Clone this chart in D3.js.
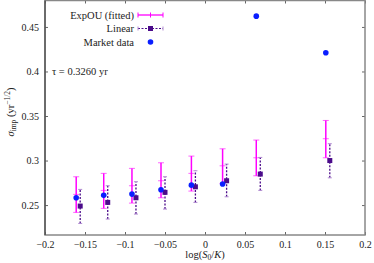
<!DOCTYPE html>
<html><head><meta charset="utf-8">
<script src="https://cdn.jsdelivr.net/npm/d3@7"></script>
<style>body{margin:0;background:#fff}svg{display:block}text{font-family:"Liberation Serif","DejaVu Serif",serif;fill:#222}</style>
</head><body><svg id="c" width="374" height="263"></svg>
<script>
const logMoneyness = [-0.161, -0.1266, -0.0913, -0.055, -0.017, 0.022, 0.0641, 0.151];
const linearLogMoneyness = [-0.156, -0.1216, -0.0863, -0.050, -0.012, 0.027, 0.0691, 0.156];
const marketVol = [0.2582, 0.2609, 0.2623, 0.2672, 0.2724, 0.2736, 0.4621, 0.421];
const expouMid  = [0.262, 0.2665, 0.2717, 0.2773, 0.2856, 0.2941, 0.3031, 0.3245];
const expouLow  = [0.2418, 0.2463, 0.2522, 0.2582, 0.2657, 0.2743, 0.2829, 0.3031];
const expouHigh = [0.2818, 0.2856, 0.2912, 0.2975, 0.305, 0.3132, 0.323, 0.345];
const linearMid  = [0.2489, 0.253, 0.2582, 0.2643, 0.2705, 0.2773, 0.2848, 0.3];
const linearLow  = [0.2294, 0.2343, 0.2399, 0.2455, 0.253, 0.2593, 0.2665, 0.2806];
const linearHigh = [0.2676, 0.2717, 0.2762, 0.2818, 0.2885, 0.296, 0.3035, 0.3189];
const xTicks = [-0.2, -0.15, -0.1, -0.05, 0, 0.05, 0.1, 0.15, 0.2];
const yTicks = [0.25, 0.3, 0.35, 0.4, 0.45];
const legendLabels = ["ExpOU (fitted)", "Linear", "Market data"];
const tauLabel = "τ = 0.3260 yr";

const L=45, R=365, T=0.5, B=235;
const x = d3.scaleLinear().domain([-0.2,0.2]).range([L,R]);
const y = d3.scaleLinear().domain([0.2164,0.4797]).range([B,T]);
const svg = d3.select("#c");
const fmt = v => (v<0?"\u2212":"") + String(Math.abs(+v.toFixed(3)));

const MAG="#ff00ff", PUR="#4b0b8a", BLUE="#0a1eff", FRAME="#888";

// axes
const gx = svg.append("g").attr("transform",`translate(0,${B})`)
  .call(d3.axisBottom(x).tickValues(xTicks).tickFormat(fmt).tickSizeInner(-3).tickSizeOuter(0).tickPadding(6));
const gxt = svg.append("g").attr("transform",`translate(0,${T})`)
  .call(d3.axisTop(x).tickValues(xTicks).tickFormat("").tickSizeInner(-3).tickSizeOuter(0));
const gy = svg.append("g").attr("transform",`translate(${L},0)`)
  .call(d3.axisLeft(y).tickValues(yTicks).tickFormat(fmt).tickSizeInner(-3).tickSizeOuter(0).tickPadding(6));
const gyr = svg.append("g").attr("transform",`translate(${R},0)`)
  .call(d3.axisRight(y).tickValues(yTicks).tickFormat("").tickSizeInner(-3).tickSizeOuter(0));
[gx,gxt,gy,gyr].forEach(g=>{g.select(".domain").remove();g.selectAll("line").attr("stroke","#666");
  g.selectAll("text").attr("font-size",10).attr("font-family","Liberation Serif").attr("fill","#222");});
svg.append("rect").attr("x",L).attr("y",T).attr("width",R-L).attr("height",B-T)
  .attr("fill","none").attr("stroke",FRAME).attr("stroke-width",1.5);
svg.append("line").attr("x1",L).attr("x2",L).attr("y1",T).attr("y2",B).attr("stroke","#333").attr("stroke-width",1);

// ExpOU error bars
const ex = svg.append("g");
logMoneyness.forEach((m,i)=>{
  const cx=x(m);
  ex.append("line").attr("x1",cx).attr("x2",cx).attr("y1",y(expouLow[i])).attr("y2",y(expouHigh[i])).attr("stroke",MAG).attr("stroke-width",1.5);
  [expouLow[i],expouHigh[i],expouMid[i]].forEach(v=>ex.append("line").attr("x1",cx-3).attr("x2",cx+3).attr("y1",y(v)).attr("y2",y(v)).attr("stroke",MAG).attr("stroke-opacity",0.6).attr("stroke-width",1));
});
// Linear error bars
const ln = svg.append("g");
linearLogMoneyness.forEach((m,i)=>{
  const cx=x(m);
  ln.append("line").attr("x1",cx).attr("x2",cx).attr("y1",y(linearLow[i])).attr("y2",y(linearHigh[i])).attr("stroke",PUR).attr("stroke-width",1.3).attr("stroke-dasharray","2,1.5");
  [linearLow[i],linearHigh[i]].forEach(v=>ln.append("line").attr("x1",cx-2).attr("x2",cx+2).attr("y1",y(v)).attr("y2",y(v)).attr("stroke","#b08ad0").attr("stroke-width",1));
  ln.append("rect").attr("x",cx-2.5).attr("y",y(linearMid[i])-2.5).attr("width",5).attr("height",5).attr("fill",PUR);
});
// Market dots
svg.append("g").selectAll("circle").data(logMoneyness).join("circle")
  .attr("cx",d=>x(d)).attr("cy",(d,i)=>y(marketVol[i])).attr("r",2.8).attr("fill",BLUE);

// Legend
const lg = svg.append("g");
const ly=[15,28.5,42];
legendLabels.forEach((t,i)=>lg.append("text").attr("x",134).attr("y",ly[i]+3.5).attr("text-anchor","end").attr("font-size",10.5).text(t));
lg.append("line").attr("x1",138).attr("x2",163).attr("y1",ly[0]).attr("y2",ly[0]).attr("stroke",MAG).attr("stroke-width",1.3);
[138,150.5,163].forEach(xx=>lg.append("line").attr("x1",xx).attr("x2",xx).attr("y1",ly[0]-2.5).attr("y2",ly[0]+2.5).attr("stroke",MAG).attr("stroke-width",1));
lg.append("line").attr("x1",138).attr("x2",163).attr("y1",ly[1]).attr("y2",ly[1]).attr("stroke",PUR).attr("stroke-width",1.2).attr("stroke-dasharray","2,1.5");
[138,163].forEach(xx=>lg.append("line").attr("x1",xx).attr("x2",xx).attr("y1",ly[1]-2).attr("y2",ly[1]+2).attr("stroke","#b08ad0").attr("stroke-width",1));
lg.append("rect").attr("x",148).attr("y",ly[1]-2.5).attr("width",5).attr("height",5).attr("fill",PUR);
lg.append("circle").attr("cx",150.5).attr("cy",ly[2]).attr("r",2.8).attr("fill",BLUE);

// tau label
svg.append("text").attr("x",52).attr("y",75).attr("font-size",10.5).text(tauLabel);

// axis labels
const xl = svg.append("text").attr("x",205).attr("y",258).attr("text-anchor","middle").attr("font-size",10.5);
xl.append("tspan").text("log(");
xl.append("tspan").attr("font-style","italic").text("S");
xl.append("tspan").attr("font-size",7.5).attr("dy",2).text("0");
xl.append("tspan").attr("dy",-2).text("/");
xl.append("tspan").attr("font-style","italic").text("K");
xl.append("tspan").text(")");

const yl = svg.append("text").attr("transform","translate(14,112) rotate(-90)").attr("text-anchor","middle").attr("font-size",10.5);
yl.append("tspan").attr("font-style","italic").text("σ");
yl.append("tspan").attr("font-size",7.5).attr("dy",2).text("imp");
yl.append("tspan").attr("dy",-2).text(" (yr");
yl.append("tspan").attr("font-size",7.5).attr("dy",-4).text("\u22121/2");
yl.append("tspan").attr("dy",4).text(")");
</script></body></html>
